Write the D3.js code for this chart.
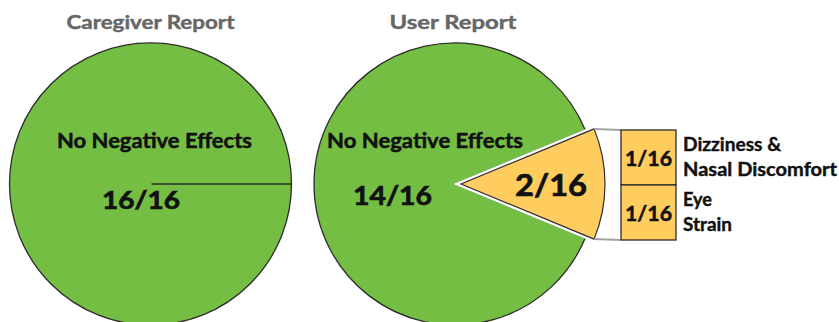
<!DOCTYPE html>
<html>
<head>
<meta charset="utf-8">
<script src="https://cdn.jsdelivr.net/npm/d3@7"></script>
<style>
  html, body { margin: 0; padding: 0; background: #fff; }
  svg { display: block; }
  text { font-family: Lato, "Open Sans", sans-serif; font-weight: 700; }
</style>
</head>
<body>
<svg id="chart" width="839" height="322"></svg>
<script>
// ---- data ----
const reportTitles = ["Caregiver Report", "User Report"];
const categories = ["No Negative Effects", "Negative Effects"];
const caregiverValues = [16, 0];
const userValues = [14, 2];
const total = 16;
const effectLabels = [["Dizziness &", "Nasal Discomfort"], ["Eye", "Strain"]];
const effectValues = [1, 1];

// ---- style / layout ----
const green = "#75BE44", yellow = "#FFCD5E", outline = "#2b2b2b";
const svg = d3.select("#chart");
const R = 141;
const labelWidths = [[98, 154], [29, 49]];

function frac(v) { return v + "/" + total; }

function pieFor(values) {
  const f = values[1] / total;
  const a0 = Math.PI / 2 + f * Math.PI; // negative slice centred at 3 o'clock
  return d3.pie().sort(null).value(d => d).startAngle(a0).endAngle(a0 + 2 * Math.PI)(values);
}

const arcGreen = d3.arc().innerRadius(0).outerRadius(R);
const arcYellow = d3.arc().innerRadius(0).outerRadius(R + 3);

function txt(g, x, y, s, size, len, color, anchor, sw) {
  const c = color || "#111";
  const t = g.append("text").attr("x", x).attr("y", y)
    .attr("font-size", size).attr("fill", c)
    .attr("stroke", c).attr("stroke-width", sw == null ? 0.5 : sw)
    .attr("text-anchor", anchor || "middle").text(s);
  if (len) t.attr("textLength", len).attr("lengthAdjust", "spacingAndGlyphs");
  return t;
}

// ---- Caregiver pie ----
{
  const cx = 150.5, cy = 184;
  const g = svg.append("g").attr("transform", `translate(${cx},${cy})`);
  const arcs = pieFor(caregiverValues);
  g.selectAll("path.s").data(arcs.filter(d => d.value > 0)).join("path")
    .attr("d", arcGreen).attr("fill", green).attr("stroke", outline).attr("stroke-width", 1.3);
  const a = arcs[0].startAngle;
  g.append("line").attr("x1", 1).attr("y1", 0)
    .attr("x2", R * Math.sin(a)).attr("y2", -R * Math.cos(a))
    .attr("stroke", outline).attr("stroke-width", 1.3);
  txt(svg, cx, 29, reportTitles[0], 19, 168, "#666", null, 0.4);
  txt(svg, 154.5, 148, categories[0], 21, 195);
  txt(svg, 141, 209, frac(caregiverValues[0]), 25, 78, null, null, 0.7);
}

// ---- User pie ----
{
  const cx = 455, cy = 184;
  const g = svg.append("g").attr("transform", `translate(${cx},${cy})`);
  const arcs = pieFor(userValues);
  const gr = arcs[0], ye = arcs[1];
  g.append("path").attr("d", arcGreen(gr)).attr("fill", green)
    .attr("stroke", outline).attr("stroke-width", 1.3);

  const mid = (ye.startAngle + ye.endAngle) / 2;
  const off = 6;
  const dx = off * Math.sin(mid), dy = -off * Math.cos(mid);
  const gy = g.append("g").attr("transform", `translate(${dx},${dy})`);
  gy.append("path").attr("d", arcYellow(ye)).attr("fill", "#fff")
    .attr("stroke", "#fff").attr("stroke-width", 6).attr("stroke-linejoin", "miter");
  gy.append("path").attr("d", arcYellow(ye)).attr("fill", yellow)
    .attr("stroke", outline).attr("stroke-width", 1.2);

  // bar of pie
  const bx = 621, bw = 55;
  const y = d3.scaleLinear().domain([0, d3.sum(effectValues)]).range([130, 240]);
  let acc = 0;
  const segs = effectValues.map((v, i) => { const s = { i, v, y0: acc, y1: acc + v }; acc += v; return s; });

  // connector lines
  const Ry = R + 3;
  const c1 = [cx + dx + Ry * Math.sin(ye.startAngle), cy + dy - Ry * Math.cos(ye.startAngle)];
  const c2 = [cx + dx + Ry * Math.sin(ye.endAngle), cy + dy - Ry * Math.cos(ye.endAngle)];
  svg.append("line").attr("x1", c1[0]).attr("y1", c1[1]).attr("x2", bx).attr("y2", y(0))
    .attr("stroke", "#a3a3a3").attr("stroke-width", 2);
  svg.append("line").attr("x1", c2[0]).attr("y1", c2[1]).attr("x2", bx).attr("y2", y(acc))
    .attr("stroke", "#a3a3a3").attr("stroke-width", 2);

  svg.selectAll("rect.seg").data(segs).join("rect")
    .attr("x", bx).attr("width", bw)
    .attr("y", d => y(d.y0)).attr("height", d => y(d.y1) - y(d.y0))
    .attr("fill", yellow).attr("stroke", outline).attr("stroke-width", 1.3);

  segs.forEach(s => {
    const ymid = (y(s.y0) + y(s.y1)) / 2;
    txt(svg, bx + bw / 2, ymid + 8, frac(s.v), 21, 47);
    const lines = effectLabels[s.i];
    lines.forEach((l, k) => {
      txt(svg, 683, ymid - 6.5 + k * 25, l, 18, labelWidths[s.i][k], "#111", "start", 0.4);
    });
  });

  txt(svg, 453, 29, reportTitles[1], 19, 127, "#666", null, 0.4);
  txt(svg, 425, 148, categories[0], 21, 196);
  txt(svg, 392.5, 205, frac(userValues[0]), 26, 79, null, null, 0.7);
  txt(svg, 551, 196, frac(userValues[1]), 30, 72, null, null, 0.7);
}
</script>
</body>
</html>
